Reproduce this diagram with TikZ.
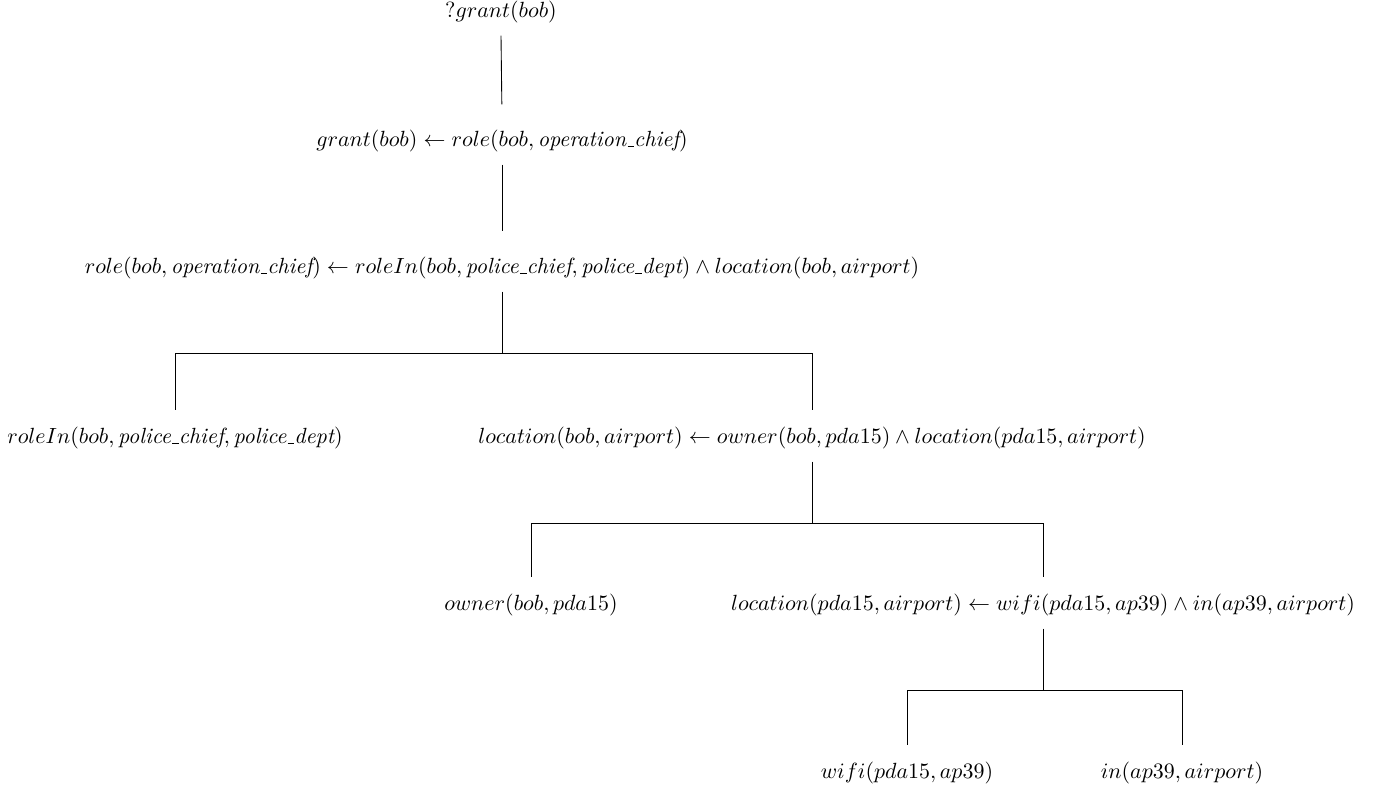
\documentclass[tikz,border=0pt]{standalone}
\usetikzlibrary{calc}
\newcommand{\usc}{\leavevmode\kern.06em\vbox{\hrule width.3em}}
\begin{document}
\begin{tikzpicture}[x=0.455pt,y=-0.455pt]
					\tikzstyle{term}=[inner xsep=0pt,inner ysep=5.5pt,text height=7.5pt,text depth=2.5pt]
					\tikzstyle{link}=[shorten >=6pt]
					\tikzstyle{fork}=[shorten >=2pt]
					\useasboundingbox (0,0) rectangle (1375,793);
					\node (root) [term] at (501,12) {$?grant(bob)$};
					\node (g1) [term] at (502,141) {$grant(bob) \leftarrow role(bob, \textit{operation\usc chief})$};
					\node (r1) [term] at (502,268) {$role(bob, \textit{operation\usc chief}) \leftarrow roleIn(bob, \textit{police\usc chief}, \textit{police\usc dept}) \wedge location(bob, airport)$};
					\node (ri) [term] at (175,438) {$roleIn(bob, \textit{police\usc chief}, \textit{police\usc dept})$};
					\node (l1) [term] at (812,438) {$location(bob, airport) \leftarrow owner(bob, pda15) \wedge location(pda15, airport)$};
					\node (ow) [term] at (531,605) {$owner(bob, pda15)$};
					\node (l2) [term] at (1043,605) {$location(pda15, airport) \leftarrow wifi(pda15, ap39) \wedge in(ap39, airport)$};
					\node (wf) [term] at (907,773) {$wifi(pda15, ap39)$};
					\node (in) [term] at (1182,773) {$in(ap39, airport)$};
					\draw[link] (root.south) -- (g1.north);
					\draw[link] (g1.south) -- (r1.north);
					\draw (r1.south) -- ++(0,62) coordinate (f1);
					\draw[fork] (f1) -| (ri.north);
					\draw[fork] (f1) -| (l1.north);
					\draw (l1.south) -- ++(0,62) coordinate (f2);
					\draw[fork] (f2) -| (ow.north);
					\draw[fork] (f2) -| (l2.north);
					\draw (l2.south) -- ++(0,62) coordinate (f3);
					\draw[fork] (f3) -| (wf.north);
					\draw[fork] (f3) -| (in.north);
				\end{tikzpicture}
\end{document}
